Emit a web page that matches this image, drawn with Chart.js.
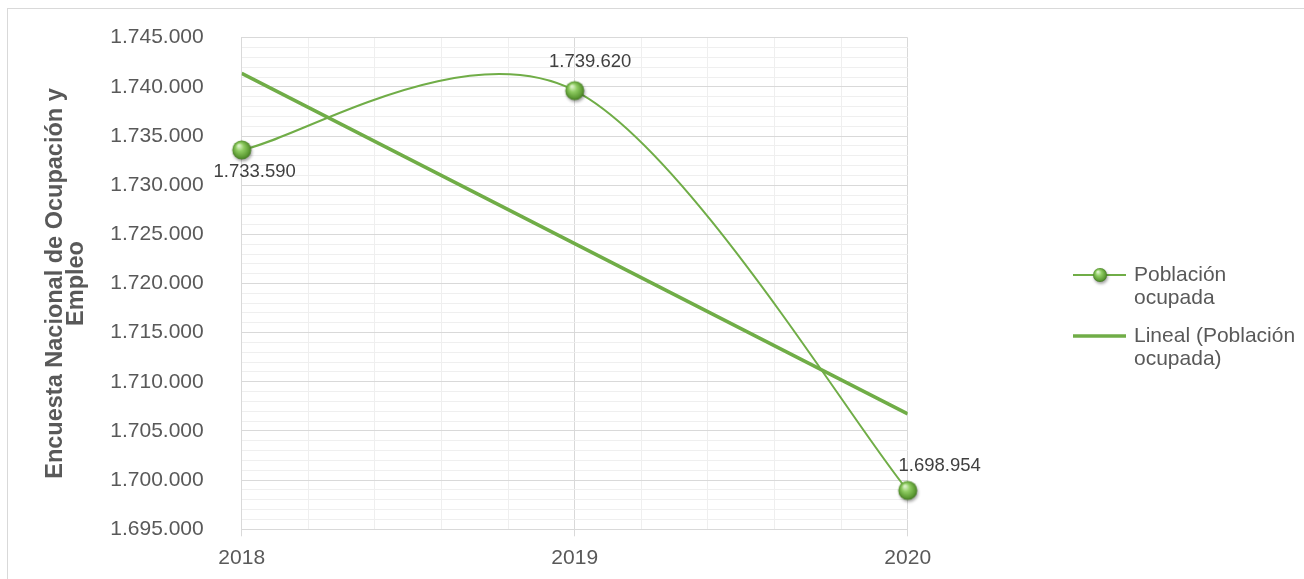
<!DOCTYPE html>
<html lang="es">
<head>
<meta charset="utf-8">
<title>Población ocupada</title>
<script src="https://cdn.jsdelivr.net/npm/chart.js@4.4.0/dist/chart.umd.min.js"></script>
<style>
  html, body { margin: 0; padding: 0; background: #ffffff; overflow: hidden; }
  #wrap { position: relative; width: 1304px; height: 579px; }
</style>
</head>
<body>
<div id="wrap"><canvas id="chart" width="1304" height="579"></canvas></div>
<script>
// Datos (Encuesta Nacional de Ocupación y Empleo)
const years = [2018, 2019, 2020];
const poblacion = [1733590, 1739620, 1698954];
// Línea de tendencia lineal
const tendencia = [1741373, 1724055, 1706737];
const yMajorTicks = [1695000, 1700000, 1705000, 1710000, 1715000, 1720000,
                     1725000, 1730000, 1735000, 1740000, 1745000];
const yTitle = ['Encuesta Nacional de Ocupación y', 'Empleo'];
const legendLabels = [['Población', 'ocupada'], ['Lineal (Población', 'ocupada)']];

const GREEN = '#70ad47';
const TEXT = '#595959';
const FONT = '"Liberation Sans", Arial, sans-serif';
const labelOffsets = [[13, 22], [15.5, -28.5], [32, -24.5]];

function fmt(v) {
    return String(Math.round(v)).replace(/\B(?=(\d{3})+(?!\d))/g, '.');
}

function isYear(v) {
    return Math.abs(v - Math.round(v)) < 1e-6;
}

function drawSphere(ctx, x, y, r) {
    ctx.save();
    ctx.shadowColor = 'rgba(0,0,0,0.35)';
    ctx.shadowBlur = 3;
    ctx.shadowOffsetX = 1;
    ctx.shadowOffsetY = 2;
    const g = ctx.createRadialGradient(x - r * 0.3, y - r * 0.45, r * 0.1, x, y, r * 1.05);
    g.addColorStop(0, '#d8f0c4');
    g.addColorStop(0.35, '#8fcc62');
    g.addColorStop(0.8, '#5c9a33');
    g.addColorStop(1, '#3d6e1f');
    ctx.fillStyle = g;
    ctx.beginPath();
    ctx.arc(x, y, r, 0, Math.PI * 2);
    ctx.fill();
    ctx.restore();
}

// marker sprite used as pointStyle
const sprite = document.createElement('canvas');
sprite.width = 30;
sprite.height = 30;
drawSphere(sprite.getContext('2d'), 15, 15, 9.5);

// outer frame of the chart object
const framePlugin = {
    id: 'frame',
    beforeDraw(chart) {
        const ctx = chart.ctx;
        ctx.save();
        ctx.strokeStyle = '#d9d9d9';
        ctx.lineWidth = 1;
        ctx.strokeRect(7.5, 8.5, 1400, 700);
        ctx.restore();
    }
};

// Excel style smoothing (Catmull-Rom control points)
const smoothPlugin = {
    id: 'smooth',
    beforeDatasetDraw(chart, args) {
        if (chart.data.datasets[args.index].label !== 'Población ocupada') return;
        const meta = args.meta;
        meta.dataset.updateControlPoints(chart.chartArea, meta.iScale.axis);
        const pts = meta.data;
        pts.forEach((p, i) => {
            const prev = pts[i - 1] || p;
            const next = pts[i + 1] || p;
            const dx = (next.x - prev.x) / 6;
            const dy = (next.y - prev.y) / 6;
            p.cp1x = p.x - dx;
            p.cp1y = p.y - dy;
            p.cp2x = p.x + dx;
            p.cp2y = p.y + dy;
        });
    }
};

const labelsPlugin = {
    id: 'valueLabels',
    afterDatasetsDraw(chart) {
        const idx = chart.data.datasets.findIndex(d => d.label === 'Población ocupada');
        const meta = chart.getDatasetMeta(idx);
        const ctx = chart.ctx;
        ctx.save();
        ctx.font = '18.5px ' + FONT;
        ctx.fillStyle = '#404040';
        ctx.textAlign = 'center';
        ctx.textBaseline = 'middle';
        meta.data.forEach((p, i) => {
            ctx.fillText(fmt(poblacion[i]), p.x + labelOffsets[i][0], p.y + labelOffsets[i][1]);
        });
        ctx.restore();
    }
};

const titlePlugin = {
    id: 'yTitle',
    afterDraw(chart) {
        const ctx = chart.ctx;
        const area = chart.chartArea;
        const cy = (area.top + area.bottom) / 2;
        ctx.save();
        ctx.font = 'bold 23.5px ' + FONT;
        ctx.fillStyle = TEXT;
        ctx.textAlign = 'center';
        ctx.textBaseline = 'middle';
        [55.5, 77].forEach((x, i) => {
            ctx.save();
            ctx.translate(x, cy);
            ctx.rotate(-Math.PI / 2);
            ctx.fillText(yTitle[i], 0, 0);
            ctx.restore();
        });
        ctx.restore();
    }
};

const legendPlugin = {
    id: 'sideLegend',
    afterDraw(chart) {
        const ctx = chart.ctx;
        ctx.save();
        ctx.strokeStyle = GREEN;
        // Población ocupada
        ctx.lineWidth = 2;
        ctx.beginPath();
        ctx.moveTo(1073, 275);
        ctx.lineTo(1126, 275);
        ctx.stroke();
        drawSphere(ctx, 1100, 275, 7);
        // Lineal
        ctx.lineWidth = 3.5;
        ctx.beginPath();
        ctx.moveTo(1073, 336);
        ctx.lineTo(1126, 336);
        ctx.stroke();

        ctx.font = '21px ' + FONT;
        ctx.fillStyle = TEXT;
        ctx.textAlign = 'left';
        ctx.textBaseline = 'middle';
        ctx.fillText(legendLabels[0][0], 1134, 275);
        ctx.fillText(legendLabels[0][1], 1134, 298);
        ctx.fillText(legendLabels[1][0], 1134, 336);
        ctx.fillText(legendLabels[1][1], 1134, 359);
        ctx.restore();
    }
};

new Chart(document.getElementById('chart'), {
    type: 'line',
    data: {
        datasets: [
            {
                label: 'Lineal (Población ocupada)',
                data: years.map((y, i) => ({ x: y, y: tendencia[i] })),
                borderColor: GREEN,
                borderWidth: 3.5,
                pointRadius: 0,
                tension: 0,
                order: 0
            },
            {
                label: 'Población ocupada',
                data: years.map((y, i) => ({ x: y, y: poblacion[i] })),
                borderColor: GREEN,
                borderWidth: 2,
                pointStyle: sprite,
                pointRadius: 10,
                tension: 0.4,
                clip: false,
                order: 1
            }
        ]
    },
    options: {
        responsive: false,
        animation: false,
        events: [],
        layout: { padding: { top: 37.7, right: 396.3, left: 0, bottom: 0 } },
        plugins: {
            legend: { display: false },
            tooltip: { enabled: false }
        },
        scales: {
            x: {
                type: 'linear',
                min: 2018,
                max: 2020,
                afterFit: s => { s.height = 49.7; },
                border: { color: '#d9d9d9' },
                grid: {
                    color: c => isYear(c.tick.value) ? '#d9d9d9' : '#efefef',
                    drawTicks: true,
                    tickLength: 7,
                    tickColor: c => isYear(c.tick.value) ? '#d9d9d9' : 'rgba(0,0,0,0)'
                },
                ticks: {
                    stepSize: 0.2,
                    autoSkip: false,
                    maxRotation: 0,
                    padding: 9,
                    color: TEXT,
                    font: { family: FONT, size: 21 },
                    callback: v => (isYear(v) && years.includes(Math.round(v))) ? String(Math.round(v)) : ''
                }
            },
            y: {
                min: 1695000,
                max: 1745000,
                afterFit: s => { s.width = 241.7; },
                border: { color: '#d9d9d9' },
                grid: {
                    color: c => yMajorTicks.includes(c.tick.value) ? '#d9d9d9' : '#efefef',
                    drawTicks: true,
                    tickLength: 38,
                    tickColor: 'rgba(0,0,0,0)'
                },
                ticks: {
                    stepSize: 1000,
                    autoSkip: false,
                    padding: 0,
                    color: TEXT,
                    font: { family: FONT, size: 21 },
                    callback: v => yMajorTicks.includes(v) ? fmt(v) : ''
                }
            }
        }
    },
    plugins: [framePlugin, smoothPlugin, labelsPlugin, titlePlugin, legendPlugin]
});
</script>
</body>
</html>
